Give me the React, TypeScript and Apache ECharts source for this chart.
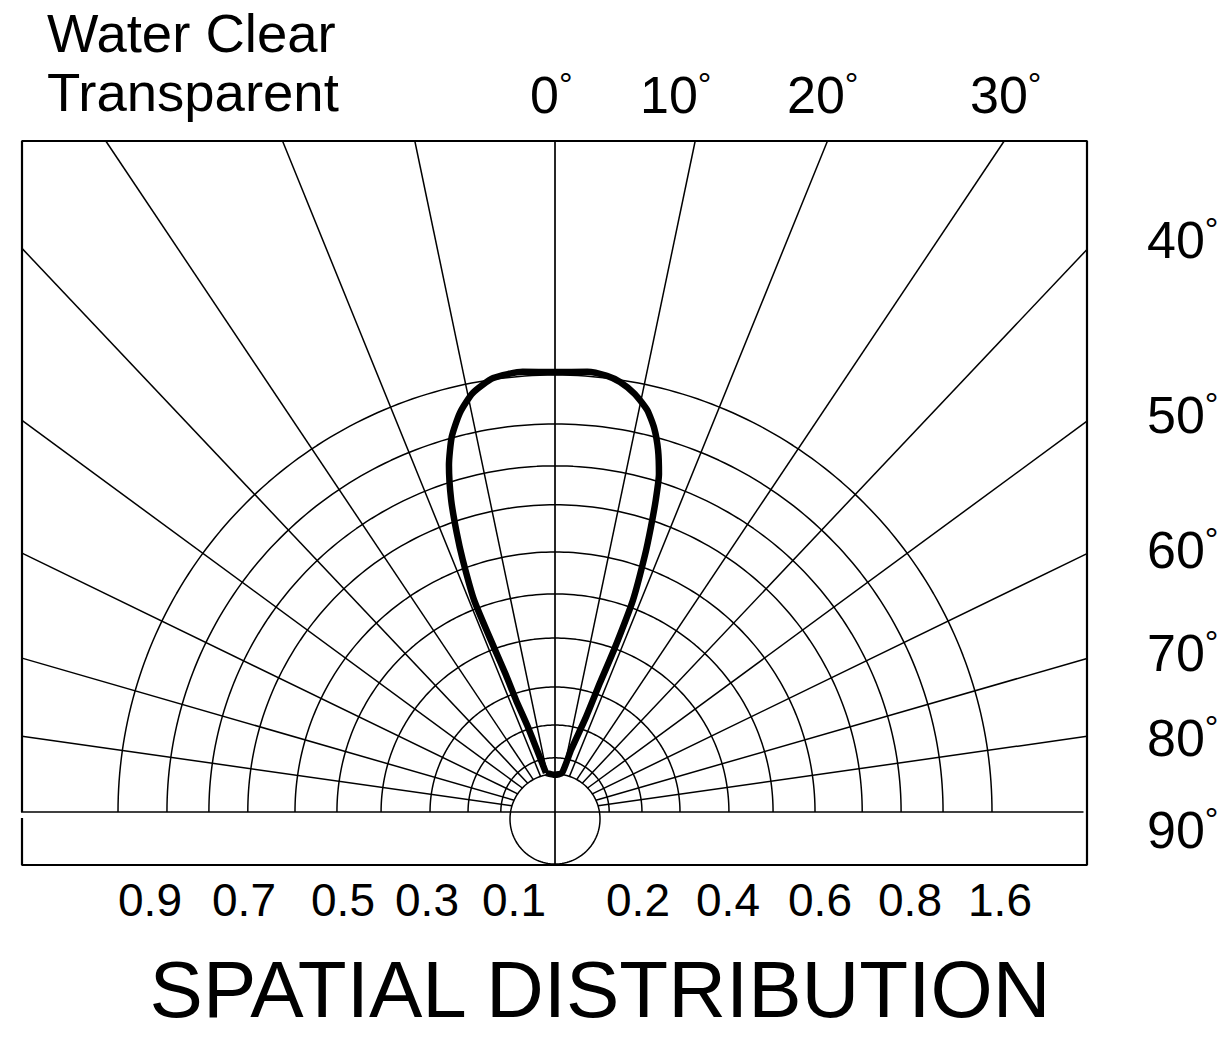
import React, { useEffect, useRef } from "react";
import * as echarts from "echarts";

// ---------- texts ----------
const headerLines = ["Water Clear", "Transparent"];
const chartTitle = "SPATIAL DISTRIBUTION";
const topAngleLabels = ["0", "10", "20", "30"];
const sideAngleLabels = ["40", "50", "60", "70", "80", "90"];
const scaleLabels = ["0.9", "0.7", "0.5", "0.3", "0.1", "0.2", "0.4", "0.6", "0.8", "1.6"];

// ---------- grid values (relative intensity units, outer arc = 1) ----------
// drawn spoke directions, degrees from the 0° axis, for the 10°..80° spokes
const spokeAngles = [11.8, 22.1, 33.8, 43.4, 53.7, 64.1, 73.9, 81.9];
// radii of the concentric arcs
const arcRadii = [0.124, 0.199, 0.286, 0.398, 0.499, 0.595, 0.703, 0.792, 0.888, 1.0];

// ---------- radiation pattern (angle in degrees, relative intensity) ----------
const lobeAngles = [
  -13.0, -16.2, -17.8, -19.2, -19.7, -20.3, -20.9, -20.1, -19.4, -18.4, -17.0, -15.4, -13.4,
  -11.1, -8.1, -4.2, 0, 4.2, 6.8, 8.6, 10.8, 12.9, 14.5, 15.9, 17.1, 17.9, 18.6, 19.3,
  20.2, 20.0, 19.2, 18.1, 14.5, 10.2, 0,
];
const lobeIntensity = [
  0.092, 0.148, 0.209, 0.271, 0.333, 0.395, 0.519, 0.614, 0.677, 0.753, 0.83, 0.89, 0.939,
  0.977, 1.003, 1.01, 1.007, 1.01, 1.005, 0.995, 0.974, 0.944, 0.907, 0.861, 0.809,
  0.75, 0.688, 0.623, 0.517, 0.395, 0.313, 0.229, 0.147, 0.091, 0.085,
];

// ---------- layout ----------
const X_MIN = -1.2197;
const X_MAX = 1.2174;
const Y_MIN = -0.1213;
const Y_MAX = 1.5355;
const HUB_CY = -0.016;
const HUB_R = 0.103;
const FONT = "'Liberation Sans', Arial, sans-serif";
const GRID_W = 1.5;

const rad = (d: number) => (d * Math.PI) / 180;
const pt = (r: number, deg: number) => [r * Math.sin(rad(deg)), r * Math.cos(rad(deg))];

function lineSeries(data: number[][], width: number, extra: any = {}) {
  return {
    type: "line",
    data,
    symbol: "none",
    silent: true,
    lineStyle: { color: "#000", width },
    z: 2,
    ...extra,
  };
}

function buildSeries() {
  const series: any[] = [];
  arcRadii.forEach((r) => {
    const d: number[][] = [];
    for (let a = -90; a <= 90; a += 1) d.push(pt(r, a));
    series.push(lineSeries(d, GRID_W));
  });
  spokeAngles.forEach((a) => {
    [1, -1].forEach((s) => {
      const ux = s * Math.sin(rad(a));
      const uy = Math.cos(rad(a));
      const uc = uy * HUB_CY;
      const r0 = uc + Math.sqrt(uc * uc - HUB_CY * HUB_CY + HUB_R * HUB_R);
      const t = Math.min((s > 0 ? X_MAX : -X_MIN) / Math.abs(ux), Y_MAX / uy);
      series.push(lineSeries([[r0 * ux, r0 * uy], [t * ux, t * uy]], GRID_W));
    });
  });
  series.push(lineSeries([[0, Y_MIN], [0, Y_MAX]], 1.7));
  series.push(lineSeries([[X_MIN - 0.008, 0], [X_MAX - 0.008, 0]], 1.7, { clip: false }));
  const hub: number[][] = [];
  for (let a = 0; a <= 360; a += 3) hub.push([HUB_R * Math.sin(rad(a)), HUB_CY + HUB_R * Math.cos(rad(a))]);
  series.push(lineSeries(hub, GRID_W));
  series.push(
    lineSeries(
      [[X_MIN, 0], [X_MIN, Y_MAX], [X_MAX, Y_MAX], [X_MAX, Y_MIN], [X_MIN, Y_MIN], [X_MIN, -0.014]],
      2.2,
      { clip: false, z: 3 }
    )
  );
  const lobe = lobeAngles.map((a, i) => pt(lobeIntensity[i], a));
  lobe.push(lobe[0]);
  series.push(
    lineSeries(lobe, 6.5, { smooth: 0.2, z: 6, lineStyle: { color: "#000", width: 6.5, join: "round" } })
  );
  return series;
}

function buildGraphic() {
  const g: any[] = [];
  const txt = (text: string, x: number, y: number, size: number, align = "left") => ({
    type: "text",
    x,
    y,
    style: { text, fill: "#000", fontSize: size, fontFamily: FONT, textAlign: align, textVerticalAlign: "middle" },
  });
  const DEG_SIZE = 52;
  const RING_SIZE = 34;
  const deg = (text: string, x: number, y: number) => ({
    type: "text",
    x,
    y,
    style: {
      text: `{n|${text}}{d|°}`,
      fill: "#000",
      textAlign: "left",
      textVerticalAlign: "middle",
      rich: {
        n: { fontSize: DEG_SIZE, fontFamily: FONT, fill: "#000", lineHeight: 56 },
        d: { fontSize: RING_SIZE, fontFamily: FONT, fill: "#000", verticalAlign: "top", lineHeight: 34 },
      },
    },
  });
  g.push(txt(headerLines[0], 47, 33, 54.5));
  g.push(txt(headerLines[1], 47, 92, 54.5));
  const topX = [530, 640, 787, 970];
  topAngleLabels.forEach((l, i) => g.push(deg(l, topX[i], 95)));
  const sideY = [240, 415, 550, 653, 738, 830];
  sideAngleLabels.forEach((l, i) => g.push(deg(l, 1147, sideY[i])));
  const scaleX = [150, 244, 343, 427, 514, 638, 728, 820, 910, 1000];
  scaleLabels.forEach((l, i) => g.push(txt(l, scaleX[i], 900, 46, "center")));
  g.push(txt(chartTitle, 600, 989, 80, "center"));
  return g;
}

export default function App() {
  const ref = useRef<HTMLDivElement>(null);
  useEffect(() => {
    if (!ref.current) return;
    const chart = echarts.init(ref.current, undefined, { renderer: "svg" });
    chart.setOption({
      animation: false,
      backgroundColor: "#fff",
      grid: { left: 22, top: 141, width: 1065, height: 724, show: false },
      xAxis: { type: "value", min: X_MIN, max: X_MAX, show: false },
      yAxis: { type: "value", min: Y_MIN, max: Y_MAX, show: false },
      series: buildSeries(),
      graphic: buildGraphic(),
    });
    return () => chart.dispose();
  }, []);
  return (
    <div
      ref={ref}
      style={{ position: "fixed", left: 0, top: 0, width: 1220, height: 1037, background: "#fff" }}
    />
  );
}
